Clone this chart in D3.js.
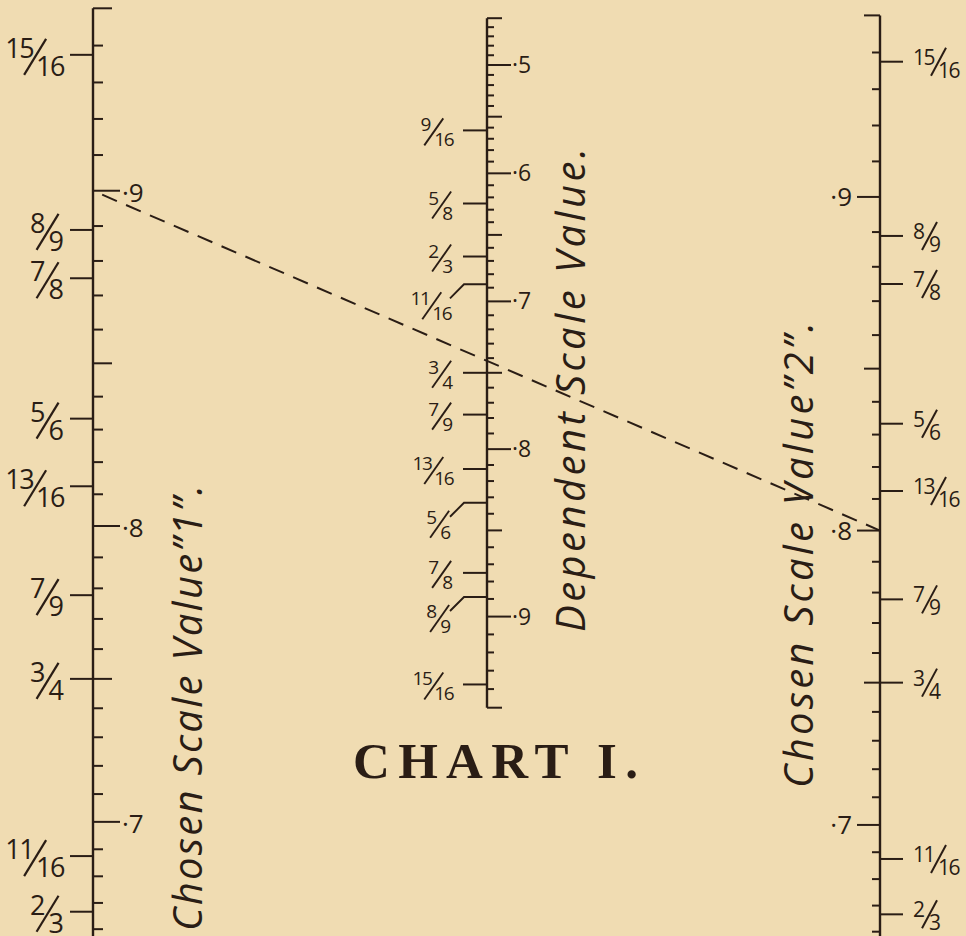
<!DOCTYPE html>
<html><head><meta charset="utf-8">
<script src="https://cdn.jsdelivr.net/npm/d3@7/dist/d3.min.js"></script>
<style>html,body{margin:0;padding:0;background:#f0dcb2;} svg{display:block}</style>
</head><body>
<svg id="chart" width="966" height="936"></svg>
<script>
// ---------------- data ----------------
const leftDomain = [0.65, 0.95];
const rightDomain = [0.65, 0.95];
const middleDomain = [0.45, 0.95];
const leftDecimals = [0.7, 0.8, 0.9];
const rightDecimals = [0.7, 0.8, 0.9];
const middleDecimals = [0.5, 0.6, 0.7, 0.8, 0.9];
const leftFractions = ["15/16", "8/9", "7/8", "5/6", "13/16", "7/9", "3/4", "11/16", "2/3"];
const rightFractions = ["15/16", "8/9", "7/8", "5/6", "13/16", "7/9", "3/4", "11/16", "2/3"];
const middleFractions = ["9/16", "5/8", "2/3", "11/16", "3/4", "7/9", "13/16", "5/6", "7/8", "8/9", "15/16"];
const middleLeaderFractions = ["11/16", "5/6", "8/9"];
const exampleLeft = 0.9;
const exampleRight = 0.8;
const leftTitle = "Chosen Scale Value\u201D1\u201D.";
const middleTitle = "Dependent Scale Value.";
const rightTitle = "Chosen Scale Value\u201D2\u201D.";
const chartTitle = "CHART I.";

// ---------------- setup ----------------
const ink = "#2a1d15";
const svg = d3.select("#chart");
svg.append("rect").attr("width", 966).attr("height", 936).attr("fill", "#f0dcb2");

const xL = 93, xM = 487, xR = 880;
const yLeft = d3.scalePow().exponent(2).domain(leftDomain).range([955, 8.3]);
const yRight = d3.scalePow().exponent(2).domain(rightDomain).range([957.4, 15.4]);
const yMid = d3.scalePow().exponent(2).domain(middleDomain).range([18.2, 707.7]);

const fval = s => { const [a, b] = s.split("/").map(Number); return a / b; };
const kind = v => { const h = Math.round(v * 100); return h % 10 === 0 ? 2 : (h % 5 === 0 ? 1 : 0); };
const fontSans = "'Open Sans', 'DejaVu Sans', sans-serif";

function drawAxis(scale, x, dir, lens) {
  const g = svg.append("g").attr("stroke", ink).attr("fill", "none");
  const dom = scale.domain();
  g.append("line").attr("x1", x).attr("x2", x)
    .attr("y1", scale(dom[0])).attr("y2", scale(dom[1])).attr("stroke-width", 2.4);
  const ticks = scale.ticks(Math.round(Math.abs(dom[1] - dom[0]) * 100));
  g.selectAll("line.t").data(ticks).join("line").attr("class", "t")
    .attr("x1", x).attr("x2", d => x + dir * lens[kind(d)])
    .attr("y1", d => scale(d)).attr("y2", d => scale(d))
    .attr("stroke-width", 2);
  return g;
}

drawAxis(yLeft, xL, 1, [10, 19, 27]);
drawAxis(yRight, xR, -1, [8, 16, 23]);
drawAxis(yMid, xM, 1, [7, 15, 24]);

// decimal labels
function decLabels(vals, scale, x, anchor, fs, dy) {
  svg.append("g").selectAll("text").data(vals).join("text")
    .attr("x", x).attr("y", d => scale(d) + dy)
    .attr("text-anchor", anchor)
    .attr("font-family", fontSans).attr("font-size", fs).attr("fill", ink)
    .text(d => "\u00B7" + Math.round(d * 10));
}
decLabels(leftDecimals, yLeft, 122, "start", 26, 11);
decLabels(rightDecimals, yRight, 852, "end", 26, 9);
decLabels(middleDecimals, yMid, 512, "start", 23, 8);

function fracText(g, x, y, fs, anchor, txt) {
  return g.append("text").attr("x", x).attr("y", y).attr("text-anchor", anchor)
    .attr("font-family", fontSans).attr("font-size", fs).attr("fill", ink)
    .attr("letter-spacing", txt.length > 1 ? "-1.5px" : null).text(txt);
}
// fraction label drawn with right edge at xr
function fracRightEdge(g, s, xr, y, fs, o) {
  const [n, d] = s.split("/");
  const dt = fracText(g, xr, y + o.den, fs, "end", d);
  const dl = xr - dt.node().getComputedTextLength();
  fracText(g, dl - o.gap, y + o.num, fs, "end", n);
  g.append("line").attr("x1", dl + o.sx1).attr("y1", y + o.sy1)
    .attr("x2", dl + o.sx2).attr("y2", y + o.sy2)
    .attr("stroke", ink).attr("stroke-width", o.sw);
}
// fraction label drawn with left edge at xl
function fracLeftEdge(g, s, xl, y, fs, o) {
  const [n, d] = s.split("/");
  const nt = fracText(g, xl, y + o.num, fs, "start", n);
  const nr = xl + nt.node().getComputedTextLength();
  fracText(g, nr + o.gap, y + o.den, fs, "start", d);
  g.append("line").attr("x1", nr + o.sx1).attr("y1", y + o.sy1)
    .attr("x2", nr + o.sx2).attr("y2", y + o.sy2)
    .attr("stroke", ink).attr("stroke-width", o.sw);
}

// left fractions
const gLF = svg.append("g");
leftFractions.forEach(s => {
  const y = yLeft(fval(s));
  gLF.append("line").attr("x1", xL - 23).attr("x2", xL).attr("y1", y).attr("y2", y)
    .attr("stroke", ink).attr("stroke-width", 2);
  fracRightEdge(gLF, s, 64, y, 27, {num: 3, den: 21, gap: 3, sx1: 10, sy1: -16, sx2: -12, sy2: 20, sw: 2.2});
});

// right fractions
const gRF = svg.append("g");
rightFractions.forEach(s => {
  const y = yRight(fval(s));
  gRF.append("line").attr("x1", xR).attr("x2", xR + 23).attr("y1", y).attr("y2", y)
    .attr("stroke", ink).attr("stroke-width", 2);
  fracLeftEdge(gRF, s, 913, y, 21, {num: 3, den: 16, gap: 4, sx1: 12, sy1: -14, sx2: -3, sy2: 14, sw: 2});
});

// middle fractions
const gMF = svg.append("g");
middleFractions.forEach(s => {
  const y = yMid(fval(s));
  const leader = middleLeaderFractions.includes(s);
  const o = {num: 1, den: 16, gap: 3, sx1: 9, sy1: -12, sx2: -10, sy2: 15, sw: 1.9};
  if (leader) {
    gMF.append("polyline")
      .attr("points", [[xM, y], [xM - 23, y], [xM - 37, y + 14]].map(p => p.join(",")).join(" "))
      .attr("fill", "none").attr("stroke", ink).attr("stroke-width", 1.9);
    fracRightEdge(gMF, s, 451, y + 20, 19, o);
  } else {
    gMF.append("line").attr("x1", xM - 24).attr("x2", xM).attr("y1", y).attr("y2", y)
      .attr("stroke", ink).attr("stroke-width", 2);
    fracRightEdge(gMF, s, 453, y, 19, o);
  }
});

// titles
function vTitle(txt, x, y, len) {
  svg.append("text")
    .attr("transform", `translate(${x},${y}) rotate(-90)`)
    .attr("text-anchor", "start")
    .attr("font-family", fontSans).attr("font-style", "italic").attr("font-size", 40)
    .attr("fill", ink)
    .attr("textLength", len).attr("lengthAdjust", "spacing")
    .text(txt);
}
vTitle(leftTitle, 202, 931, 446);
vTitle(middleTitle, 585, 632, 484);
vTitle(rightTitle, 813, 788, 466);

svg.append("text").attr("x", 353).attr("y", 778)
  .attr("font-family", "'Liberation Serif', 'DejaVu Serif', serif").attr("font-weight", "bold")
  .attr("font-size", 51).attr("fill", ink)
  .attr("textLength", 285).attr("lengthAdjust", "spacing")
  .text(chartTitle);

// example dashed isopleth
svg.append("line")
  .attr("x1", xL).attr("y1", yLeft(exampleLeft))
  .attr("x2", xR).attr("y2", yRight(exampleRight))
  .attr("stroke", ink).attr("stroke-width", 2).attr("stroke-dasharray", "16,10")
  .attr("stroke-dashoffset", -10);
</script>
</body></html>
